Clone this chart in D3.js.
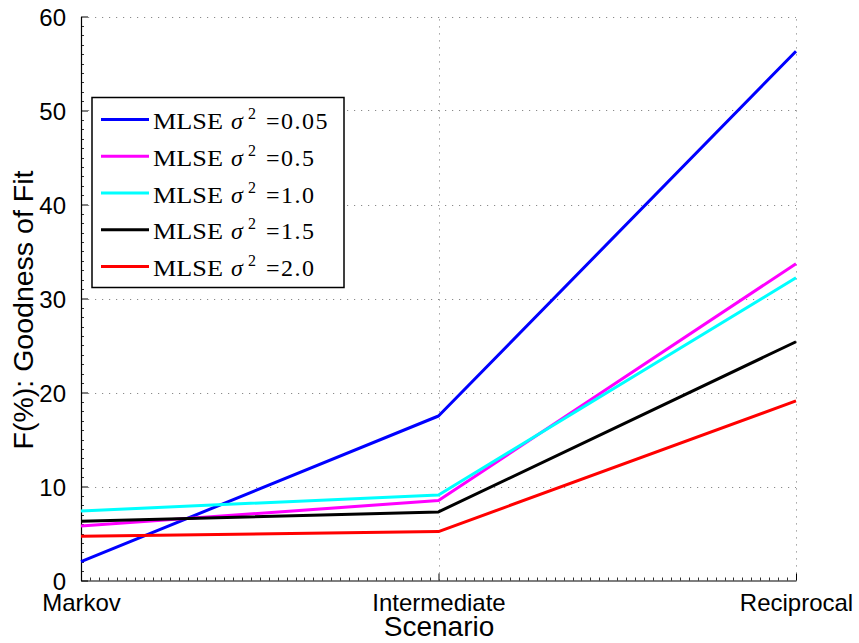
<!DOCTYPE html>
<html><head><meta charset="utf-8">
<script src="https://cdn.jsdelivr.net/npm/d3@7"></script>
<style>body{margin:0;background:#fff}svg{display:block}</style>
</head><body>
<script>
const categories = ["Markov", "Intermediate", "Reciprocal"];
const seriesNames = ["0.05", "0.5", "1.0", "1.5", "2.0"];
const seriesColors = ["#0000ff", "#ff00ff", "#00ffff", "#000000", "#ff0000"];
const s005 = [2.0, 17.5, 56.3];
const s05 = [5.8, 8.5, 33.7];
const s10 = [7.4, 9.1, 32.2];
const s15 = [6.3, 7.3, 25.4];
const s20 = [4.7, 5.2, 19.1];
const seriesValues = [s005, s05, s10, s15, s20];
const yTicks = [0, 10, 20, 30, 40, 50, 60];

const W = 859, H = 643;
const m = {left: 81, right: 796, top: 16.5, bottom: 580.5};
const svg = d3.select("body").append("svg").attr("width", W).attr("height", H);

const x = d3.scaleLinear().domain([0, categories.length - 1]).range([m.left, m.right]);
const y = d3.scaleLinear().domain([0, 60]).range([m.bottom, m.top]);

// grid
const grid = svg.append("g").attr("stroke", "#8a8a8a").attr("stroke-width", 1).attr("stroke-dasharray", "1.2,5.8");
grid.selectAll(".gy").data(yTicks.filter(d => d > 0)).join("line")
  .attr("x1", m.left).attr("x2", m.right)
  .attr("y1", d => Math.round(y(d)) + 0.5).attr("y2", d => Math.round(y(d)) + 0.5);
grid.selectAll(".gx").data(d3.range(1, categories.length)).join("line")
  .attr("y1", m.bottom).attr("y2", m.top)
  .attr("x1", d => Math.round(x(d)) + 0.5).attr("x2", d => Math.round(x(d)) + 0.5);

// minor ticks
const minor = svg.append("g").attr("stroke", "#333").attr("stroke-width", 1);
minor.selectAll(".my").data(d3.range(0, 61, 1).filter(v => v % 10 !== 0)).join("line")
  .attr("x1", m.left).attr("x2", m.left + 3)
  .attr("y1", d => Math.round(y(d)) + 0.5).attr("y2", d => Math.round(y(d)) + 0.5);
minor.selectAll(".mx").data(d3.range(0, 81, 1).filter(v => v % 40 !== 0)).join("line")
  .attr("y1", m.bottom).attr("y2", m.bottom - 3)
  .attr("x1", d => Math.round(x(d / 40)) + 0.5).attr("x2", d => Math.round(x(d / 40)) + 0.5);

// axes
const yAxis = d3.axisLeft(y).tickValues(yTicks).tickSizeInner(-7).tickSizeOuter(0).tickPadding(15);
const gy = svg.append("g").attr("transform", `translate(${m.left},0)`).call(yAxis);
const xAxis = d3.axisBottom(x).tickValues(d3.range(categories.length)).tickFormat(i => categories[i])
  .tickSizeInner(-7).tickSizeOuter(0).tickPadding(13);
const gx = svg.append("g").attr("transform", `translate(0,${m.bottom})`).call(xAxis);
[gx, gy].forEach(g => {
  g.select(".domain").attr("stroke", "#000").attr("stroke-width", 1.2);
  g.selectAll(".tick line").attr("stroke", "#000");
  g.selectAll("text").attr("font-family", "Liberation Sans, Arial, sans-serif").attr("font-size", 24).attr("fill", "#000");
});
gy.selectAll("text").attr("dy", "0.36em");

// lines
const line = d3.line().x((d, i) => x(i)).y(d => y(d));
svg.append("g").selectAll("path").data(seriesValues).join("path")
  .attr("d", line).attr("fill", "none")
  .attr("stroke", (d, i) => seriesColors[i]).attr("stroke-width", 3).attr("stroke-linejoin", "round");

// axis labels
svg.append("text").attr("x", (m.left + m.right) / 2 + 0.5).attr("y", 636).attr("text-anchor", "middle")
  .attr("font-family", "Liberation Sans, Arial, sans-serif").attr("font-size", 28).text("Scenario");
svg.append("text").attr("transform", "translate(33,310) rotate(-90)").attr("text-anchor", "middle")
  .attr("font-family", "Liberation Sans, Arial, sans-serif").attr("font-size", 28.5).text("F(%): Goodness of Fit");

// legend
const lg = svg.append("g");
lg.append("rect").attr("x", 92).attr("y", 97.5).attr("width", 252).attr("height", 190)
  .attr("fill", "#fff").attr("stroke", "#000").attr("stroke-width", 1.5);
const rowY = d3.scaleLinear().domain([0, 4]).range([119.5, 266.5]);
const serif = "Liberation Serif, Times New Roman, serif";
seriesNames.forEach((n, i) => {
  const yy = rowY(i);
  lg.append("line").attr("x1", 101).attr("x2", 149).attr("y1", yy).attr("y2", yy)
    .attr("stroke", seriesColors[i]).attr("stroke-width", 3);
  const base = yy + 9.5;
  lg.append("text").attr("x", 153).attr("y", base).attr("font-family", serif).attr("font-size", 23)
    .attr("textLength", 70).attr("lengthAdjust", "spacingAndGlyphs").text("MLSE");
  lg.append("text").attr("x", 231).attr("y", base).attr("font-family", serif).attr("font-size", 24)
    .attr("font-style", "italic").text("σ");
  lg.append("text").attr("x", 248).attr("y", base - 10).attr("font-family", serif).attr("font-size", 16).text("2");
  lg.append("text").attr("x", 266).attr("y", base).attr("font-family", serif).attr("font-size", 24)
    .attr("letter-spacing", 1.5).text("=" + n);
});
</script>
</body></html>
